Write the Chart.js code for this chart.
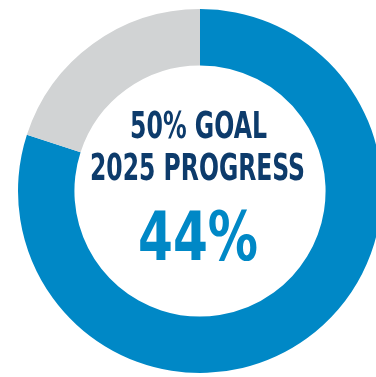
<!DOCTYPE html>
<html>
<head>
<meta charset="utf-8">
<script src="https://cdn.jsdelivr.net/npm/chart.js@4"></script>
<style>
  html, body { margin: 0; padding: 0; background: #fff; overflow: hidden; }
  #wrap { width: 376px; height: 377px; overflow: hidden; }
</style>
</head>
<body>
<div id="wrap"><canvas id="goal" width="400" height="377"></canvas></div>
<script>
// progress toward the goal and what is still left on the ring
const segments = ['Progress', 'Remaining'];
const values = [44, 11];
const colors = ['#0088c6', '#d1d3d4'];

const titleLines = ['50% GOAL', '2025 PROGRESS'];
const bigLabel = values[0] + '%';

// draw text squeezed to a given width, like a condensed face
function drawFit(ctx, text, font, cx, baseline, width, color) {
    ctx.save();
    ctx.font = font;
    ctx.fillStyle = color;
    ctx.textAlign = 'center';
    ctx.textBaseline = 'alphabetic';
    const w = ctx.measureText(text).width;
    const sx = width / w;
    ctx.translate(cx, baseline);
    ctx.scale(sx, 1);
    ctx.fillText(text, 0, 0);
    ctx.restore();
}

const centerText = {
    id: 'centerText',
    afterDraw(chart) {
        const ctx = chart.ctx;
        const fam = '"Liberation Sans Narrow", "DejaVu Sans Condensed", sans-serif';
        drawFit(ctx, titleLines[0], 'bold 38px ' + fam, 198.5, 138, 137, '#0d3b6b');
        drawFit(ctx, titleLines[1], 'bold 38px ' + fam, 197.5, 180, 215, '#0d3b6b');
        drawFit(ctx, bigLabel, 'bold 68px ' + fam, 198, 260, 120, '#0088c6');
    }
};

new Chart(document.getElementById('goal'), {
    type: 'doughnut',
    data: {
        labels: segments,
        datasets: [{
            data: values,
            backgroundColor: colors,
            borderWidth: 0
        }]
    },
    options: {
        responsive: false,
        animation: false,
        cutout: '69%',
        layout: { padding: { left: 18, right: 18, top: 9, bottom: 4 } },
        plugins: {
            legend: { display: false },
            tooltip: { enabled: false }
        }
    },
    plugins: [centerText]
});
</script>
</body>
</html>
